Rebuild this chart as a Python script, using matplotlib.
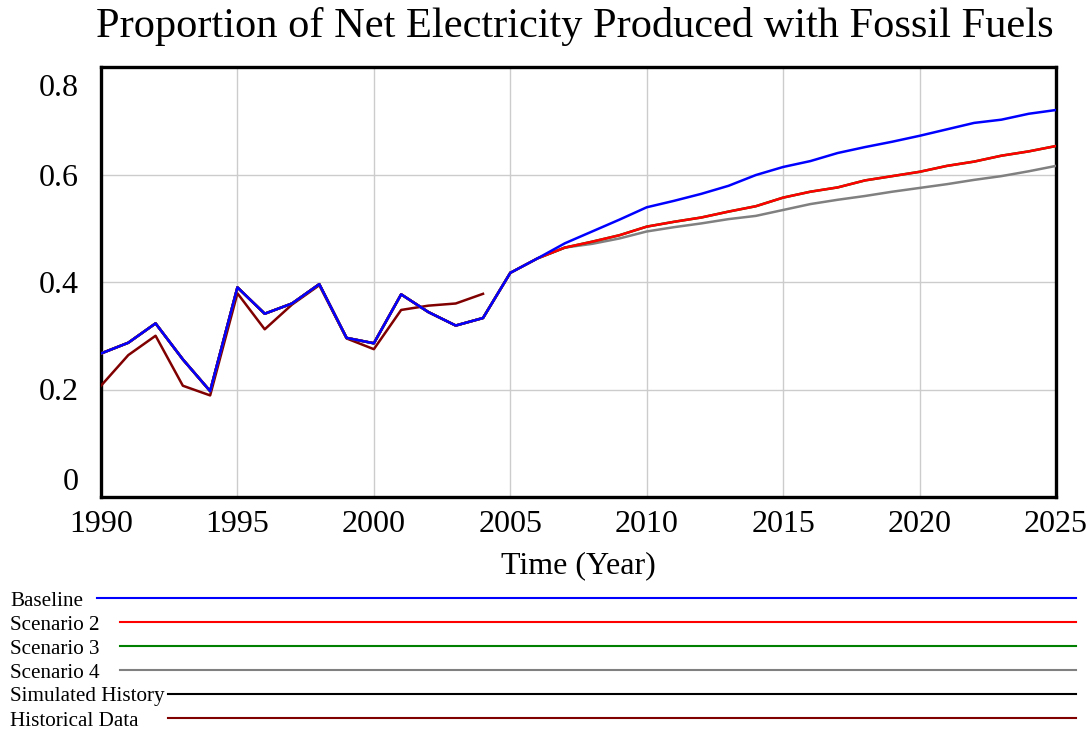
import matplotlib
matplotlib.use('Agg')
import matplotlib.pyplot as plt
import matplotlib.transforms as mtransforms
from matplotlib.lines import Line2D

plt.rcParams['font.family'] = ['Liberation Serif', 'DejaVu Serif']

# --- data ---
hist_years = list(range(1990, 2006))
sim_years = list(range(1990, 2026))

baseline = [0.267, 0.287, 0.323, 0.256, 0.197, 0.390, 0.341, 0.360, 0.396, 0.296,
            0.286, 0.377, 0.344, 0.319, 0.333, 0.417, 0.444, 0.472, 0.494, 0.516,
            0.539, 0.551, 0.564, 0.579, 0.599, 0.614, 0.625, 0.640, 0.651, 0.661,
            0.672, 0.684, 0.696, 0.702, 0.713, 0.720]

scenario2 = baseline[:16] + [0.444, 0.464, 0.475, 0.487,
                             0.503, 0.512, 0.520, 0.531, 0.541, 0.557, 0.568, 0.576,
                             0.589, 0.597, 0.605, 0.616, 0.624, 0.635, 0.643, 0.653]

# hidden beneath Scenario 2 in the reference
scenario3 = list(scenario2)

scenario4 = baseline[:16] + [0.444, 0.464, 0.471, 0.481,
                             0.494, 0.502, 0.509, 0.517, 0.523, 0.534, 0.545, 0.553,
                             0.560, 0.568, 0.575, 0.582, 0.590, 0.597, 0.606, 0.616]

# hidden beneath Baseline in the reference
simulated_history = baseline[:16]

historical_years = list(range(1990, 2005))
historical_data = [0.207, 0.264, 0.300, 0.207, 0.189, 0.379, 0.312, 0.358, 0.394, 0.295,
                   0.275, 0.348, 0.356, 0.360, 0.378]

series = [
    ('Baseline', sim_years, baseline, '#0000ff'),
    ('Scenario 2', sim_years, scenario2, '#ff0000'),
    ('Scenario 3', sim_years, scenario3, '#008000'),
    ('Scenario 4', sim_years, scenario4, '#808080'),
    ('Simulated History', hist_years, simulated_history, '#000000'),
    ('Historical Data', historical_years, historical_data, '#800000'),
]

W, H = 1092, 732
fig = plt.figure(figsize=(W / 100, H / 100), dpi=100)
ax = fig.add_axes([101 / W, 1 - 497 / H, (1056 - 101) / W, (497 - 67) / H])

# first series on top, like the original tool
n = len(series)
for i, (name, xs, ys, col) in enumerate(series):
    ax.plot(xs, ys, color=col, lw=1.8, zorder=10 + n - i)

ax.set_xlim(1990, 2025)
ax.set_ylim(0, 0.8)
ax.set_xticks(range(1990, 2026, 5))
ax.set_yticks([0, 0.2, 0.4, 0.6, 0.8])
ax.set_yticklabels(['0', '0.2', '0.4', '0.6', '0.8'])
ax.grid(True, color='#cccccc', lw=1)
ax.set_axisbelow(True)
ax.tick_params(length=0, labelsize=23)
ax.tick_params(axis='y', pad=16)
ax.tick_params(axis='x', pad=9)
for sp in ax.spines.values():
    sp.set_linewidth(2.4)
    sp.set_color('black')

# nudge the end labels inward
labels = ax.get_yticklabels()
shift = 13
labels[0].set_transform(labels[0].get_transform() +
                        mtransforms.ScaledTranslation(0, shift / 72, fig.dpi_scale_trans))
labels[-1].set_transform(labels[-1].get_transform() +
                         mtransforms.ScaledTranslation(0, -shift / 72, fig.dpi_scale_trans))

ax.set_xlabel('Time (Year)', fontsize=23, labelpad=9)

fig.text(575 / W, 1 - 27 / H, 'Proportion of Net Electricity Produced with Fossil Fuels',
         ha='center', va='center', fontsize=30.5)

# legend rows at the bottom
starts = [97, 120, 120, 120, 168, 168]
for i, (name, xs, ys, col) in enumerate(series):
    yy = 1 - (598 + 24 * i) / H
    fig.text(10 / W, yy - 3 / H, name, ha='left', va='center', fontsize=15.2)
    fig.add_artist(Line2D([starts[i] / W, 1076 / W], [yy, yy], color=col, lw=1.5,
                          transform=fig.transFigure))

fig.savefig('out.png', dpi=100)
